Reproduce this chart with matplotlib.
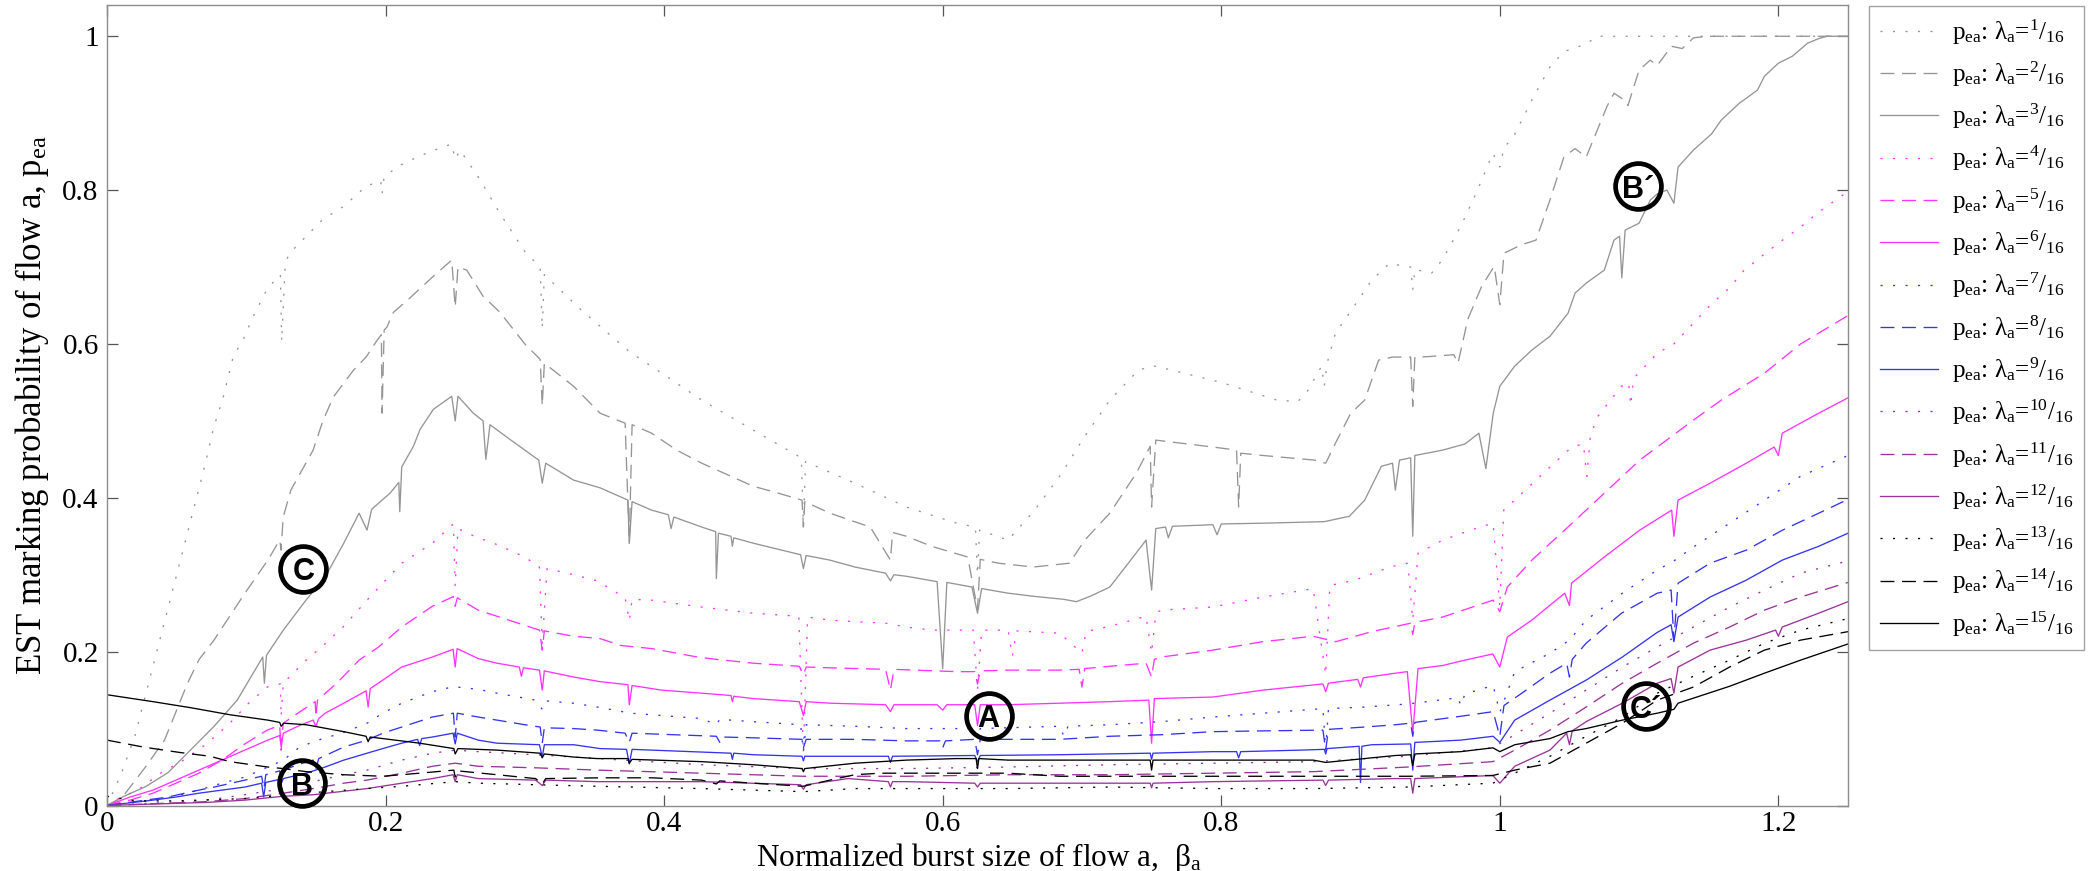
import matplotlib
matplotlib.use("Agg")
import matplotlib.pyplot as plt
from matplotlib.ticker import FormatStrFormatter

plt.rcParams['font.family'] = ['Liberation Serif', 'DejaVu Serif']
plt.rcParams['mathtext.fontset'] = 'custom'
plt.rcParams['mathtext.rm'] = 'Liberation Serif'
plt.rcParams['mathtext.it'] = 'Liberation Serif:italic'
plt.rcParams['lines.scale_dashes'] = False

# ---- data: beta_a (x) vs p_ea (y), one pair per lambda_a = k/16 ----
x1 = [0, 0.01, 0.02, 0.03, 0.04, 0.05, 0.06, 0.07, 0.0764, 0.0836, 0.0907, 0.0979, 0.105, 0.1146, 0.1206, 0.1245, 0.1254, 0.128, 0.131, 0.143, 0.155, 0.170, 0.186, 0.1965, 0.1975, 0.199, 0.213, 0.232, 0.2475, 0.25, 0.2535, 0.268, 0.282, 0.30, 0.311, 0.3125, 0.314, 0.34, 0.375, 0.40, 0.427, 0.464, 0.4985, 0.5, 0.5015, 0.537, 0.574, 0.61, 0.6235, 0.625, 0.6265, 0.647, 0.666, 0.684, 0.702, 0.72, 0.74, 0.75, 0.76, 0.80, 0.84, 0.855, 0.862, 0.872, 0.874, 0.876, 0.882, 0.895, 0.908, 0.921, 0.931, 0.936, 0.9375, 0.939, 0.951, 0.959, 0.972, 0.984, 0.995, 1.0, 1.003, 1.010, 1.023, 1.036, 1.046, 1.062, 1.07, 1.25]
y1 = [0, 0.04, 0.09, 0.16, 0.23, 0.30, 0.37, 0.44, 0.49, 0.532, 0.584, 0.606, 0.636, 0.670, 0.683, 0.69, 0.603, 0.705, 0.718, 0.740, 0.762, 0.779, 0.805, 0.812, 0.795, 0.818, 0.835, 0.85, 0.86, 0.84, 0.852, 0.813, 0.770, 0.72, 0.70, 0.62, 0.69, 0.645, 0.59, 0.56, 0.527, 0.488, 0.452, 0.363, 0.447, 0.419, 0.388, 0.367, 0.362, 0.30, 0.358, 0.345, 0.384, 0.428, 0.48, 0.527, 0.565, 0.572, 0.568, 0.55, 0.527, 0.525, 0.539, 0.571, 0.545, 0.575, 0.614, 0.648, 0.683, 0.705, 0.701, 0.70, 0.670, 0.697, 0.692, 0.71, 0.753, 0.80, 0.848, 0.83, 0.855, 0.87, 0.917, 0.96, 0.98, 0.99, 1.0, 1.0]

x2 = [0, 0.0111, 0.0276, 0.0413, 0.0578, 0.0662, 0.0768, 0.099, 0.1155, 0.124, 0.125, 0.1265, 0.132, 0.148, 0.155, 0.1625, 0.177, 0.186, 0.194, 0.197, 0.1975, 0.199, 0.201, 0.2056, 0.2152, 0.2343, 0.2475, 0.25, 0.252, 0.2583, 0.270, 0.2822, 0.30, 0.311, 0.3125, 0.314, 0.335, 0.354, 0.372, 0.375, 0.377, 0.391, 0.409, 0.427, 0.464, 0.482, 0.499, 0.5, 0.501, 0.519, 0.548, 0.5625, 0.564, 0.574, 0.592, 0.618, 0.625, 0.627, 0.640, 0.665, 0.691, 0.702, 0.72, 0.739, 0.749, 0.75, 0.753, 0.794, 0.811, 0.8125, 0.814, 0.830, 0.867, 0.875, 0.882, 0.893, 0.903, 0.913, 0.923, 0.936, 0.9375, 0.939, 0.944, 0.967, 0.97, 0.977, 0.987, 0.996, 1.0, 1.003, 1.0156, 1.026, 1.036, 1.046, 1.054, 1.062, 1.07, 1.077, 1.082, 1.087, 1.092, 1.10, 1.108, 1.113, 1.1233, 1.131, 1.139, 1.15, 1.25]
y2 = [0, 0.011, 0.05, 0.085, 0.159, 0.19, 0.215, 0.276, 0.319, 0.345, 0.332, 0.375, 0.41, 0.462, 0.50, 0.531, 0.566, 0.583, 0.605, 0.612, 0.51, 0.618, 0.622, 0.641, 0.656, 0.688, 0.709, 0.648, 0.700, 0.696, 0.662, 0.641, 0.60, 0.58, 0.52, 0.575, 0.545, 0.51, 0.497, 0.341, 0.495, 0.484, 0.462, 0.445, 0.415, 0.406, 0.397, 0.362, 0.395, 0.38, 0.362, 0.319, 0.355, 0.35, 0.337, 0.323, 0.255, 0.32, 0.315, 0.31, 0.315, 0.345, 0.38, 0.432, 0.467, 0.388, 0.475, 0.466, 0.462, 0.388, 0.458, 0.455, 0.449, 0.445, 0.471, 0.51, 0.527, 0.579, 0.583, 0.583, 0.519, 0.583, 0.583, 0.586, 0.575, 0.632, 0.675, 0.701, 0.651, 0.718, 0.729, 0.735, 0.787, 0.843, 0.854, 0.843, 0.878, 0.909, 0.926, 0.92, 0.91, 0.956, 0.969, 0.962, 0.987, 0.984, 0.998, 1.0, 1.0]

x3 = [0, 0.0028, 0.011, 0.0276, 0.044, 0.0605, 0.0769, 0.0935, 0.1118, 0.113, 0.1145, 0.1155, 0.1266, 0.1429, 0.1566, 0.170, 0.181, 0.1867, 0.19, 0.2032, 0.2095, 0.2102, 0.2116, 0.220, 0.2248, 0.2343, 0.2475, 0.25, 0.252, 0.263, 0.27, 0.272, 0.275, 0.29, 0.31, 0.3125, 0.315, 0.335, 0.354, 0.374, 0.375, 0.377, 0.391, 0.403, 0.405, 0.407, 0.427, 0.437, 0.4375, 0.439, 0.448, 0.449, 0.45, 0.464, 0.498, 0.5, 0.502, 0.519, 0.537, 0.559, 0.5625, 0.565, 0.574, 0.596, 0.6, 0.603, 0.621, 0.625, 0.628, 0.647, 0.665, 0.687, 0.696, 0.706, 0.72, 0.735, 0.746, 0.75, 0.753, 0.76, 0.762, 0.765, 0.794, 0.797, 0.80, 0.83, 0.874, 0.892, 0.903, 0.915, 0.923, 0.925, 0.928, 0.936, 0.9375, 0.939, 0.959, 0.975, 0.985, 0.99, 0.9953, 1.0, 1.0106, 1.023, 1.036, 1.049, 1.054, 1.062, 1.075, 1.082, 1.086, 1.0876, 1.09, 1.10, 1.108, 1.113, 1.12, 1.125, 1.128, 1.139, 1.152, 1.159, 1.172, 1.185, 1.19, 1.2, 1.21, 1.221, 1.229, 1.235, 1.25]
y3 = [0, 0.002, 0.011, 0.0244, 0.043, 0.073, 0.103, 0.137, 0.193, 0.159, 0.195, 0.198, 0.228, 0.267, 0.297, 0.341, 0.38, 0.358, 0.385, 0.406, 0.42, 0.382, 0.44, 0.467, 0.489, 0.515, 0.532, 0.50, 0.532, 0.51, 0.50, 0.45, 0.495, 0.475, 0.449, 0.419, 0.445, 0.423, 0.413, 0.397, 0.341, 0.395, 0.384, 0.378, 0.36, 0.375, 0.362, 0.356, 0.295, 0.354, 0.35, 0.337, 0.348, 0.341, 0.326, 0.308, 0.325, 0.319, 0.31, 0.302, 0.292, 0.30, 0.298, 0.291, 0.178, 0.29, 0.284, 0.25, 0.282, 0.276, 0.272, 0.268, 0.265, 0.272, 0.284, 0.319, 0.345, 0.28, 0.36, 0.362, 0.348, 0.363, 0.365, 0.352, 0.366, 0.367, 0.369, 0.376, 0.397, 0.441, 0.445, 0.41, 0.449, 0.452, 0.35, 0.455, 0.462, 0.47, 0.484, 0.438, 0.51, 0.545, 0.571, 0.592, 0.61, 0.64, 0.666, 0.679, 0.696, 0.735, 0.74, 0.686, 0.748, 0.757, 0.787, 0.795, 0.80, 0.783, 0.83, 0.852, 0.873, 0.891, 0.913, 0.93, 0.948, 0.965, 0.974, 0.991, 0.997, 1.0, 1.0]

x4 = [0, 0.0056, 0.0221, 0.0385, 0.0549, 0.0715, 0.0882, 0.1017, 0.115, 0.1245, 0.125, 0.1266, 0.143, 0.154, 0.170, 0.1867, 0.198, 0.2116, 0.2336, 0.2487, 0.25, 0.252, 0.2638, 0.2803, 0.30, 0.3105, 0.3125, 0.316, 0.335, 0.352, 0.372, 0.375, 0.377, 0.391, 0.427, 0.464, 0.4967, 0.5, 0.503, 0.519, 0.537, 0.559, 0.574, 0.592, 0.622, 0.625, 0.628, 0.647, 0.65, 0.653, 0.684, 0.70, 0.703, 0.72, 0.746, 0.75, 0.753, 0.757, 0.794, 0.83, 0.866, 0.875, 0.878, 0.896, 0.921, 0.934, 0.9375, 0.9413, 0.959, 0.979, 0.9952, 1.0, 1.0028, 1.0107, 1.023, 1.036, 1.0516, 1.06, 1.0625, 1.065, 1.070, 1.0874, 1.0925, 1.094, 1.096, 1.1131, 1.125, 1.139, 1.152, 1.165, 1.175, 1.19, 1.203, 1.216, 1.228, 1.241, 1.25]
y4 = [0, 0.007, 0.02, 0.042, 0.059, 0.08, 0.107, 0.133, 0.154, 0.158, 0.115, 0.159, 0.189, 0.206, 0.233, 0.267, 0.289, 0.315, 0.341, 0.366, 0.285, 0.36, 0.35, 0.339, 0.323, 0.31, 0.211, 0.308, 0.30, 0.292, 0.27, 0.24, 0.268, 0.267, 0.258, 0.25, 0.246, 0.068, 0.245, 0.241, 0.239, 0.237, 0.232, 0.228, 0.228, 0.15, 0.228, 0.228, 0.194, 0.227, 0.224, 0.198, 0.226, 0.233, 0.246, 0.198, 0.25, 0.254, 0.258, 0.271, 0.282, 0.17, 0.286, 0.293, 0.31, 0.315, 0.241, 0.328, 0.345, 0.358, 0.367, 0.258, 0.384, 0.397, 0.418, 0.44, 0.466, 0.47, 0.428, 0.48, 0.505, 0.545, 0.55, 0.52, 0.555, 0.588, 0.60, 0.627, 0.652, 0.673, 0.695, 0.717, 0.735, 0.752, 0.77, 0.787, 0.798]

x5 = [0, 0.0166, 0.033, 0.0495, 0.066, 0.0825, 0.099, 0.115, 0.124, 0.125, 0.1265, 0.137, 0.1495, 0.15, 0.1511, 0.165, 0.181, 0.195, 0.2116, 0.2336, 0.2487, 0.25, 0.2515, 0.2665, 0.28, 0.302, 0.3105, 0.3125, 0.314, 0.335, 0.354, 0.369, 0.391, 0.424, 0.4375, 0.464, 0.497, 0.5, 0.502, 0.519, 0.559, 0.5625, 0.565, 0.61, 0.623, 0.625, 0.627, 0.647, 0.684, 0.698, 0.70, 0.702, 0.72, 0.746, 0.75, 0.752, 0.757, 0.794, 0.83, 0.866, 0.8823, 0.908, 0.9361, 0.9375, 0.939, 0.959, 0.9952, 1.0, 1.0054, 1.023, 1.049, 1.075, 1.1005, 1.139, 1.159, 1.19, 1.216, 1.25]
y5 = [0, 0.007, 0.016, 0.029, 0.042, 0.059, 0.08, 0.098, 0.104, 0.072, 0.107, 0.12, 0.135, 0.115, 0.137, 0.159, 0.189, 0.206, 0.232, 0.259, 0.2716, 0.259, 0.27, 0.254, 0.246, 0.233, 0.228, 0.202, 0.227, 0.22, 0.217, 0.208, 0.204, 0.193, 0.19, 0.185, 0.181, 0.17, 0.18, 0.179, 0.177, 0.15, 0.177, 0.174, 0.174, 0.158, 0.175, 0.176, 0.176, 0.177, 0.154, 0.178, 0.181, 0.185, 0.167, 0.19, 0.193, 0.202, 0.213, 0.22, 0.213, 0.226, 0.237, 0.222, 0.238, 0.245, 0.267, 0.252, 0.284, 0.319, 0.362, 0.406, 0.449, 0.501, 0.527, 0.562, 0.60, 0.637]

x6 = [0, 0.0166, 0.033, 0.0495, 0.066, 0.0825, 0.0989, 0.1155, 0.124, 0.125, 0.1266, 0.137, 0.148, 0.15, 0.152, 0.1566, 0.170, 0.186, 0.1875, 0.189, 0.198, 0.2116, 0.2336, 0.2485, 0.25, 0.2514, 0.2665, 0.28, 0.296, 0.2975, 0.299, 0.3105, 0.3125, 0.314, 0.335, 0.354, 0.374, 0.375, 0.377, 0.398, 0.427, 0.448, 0.449, 0.45, 0.464, 0.497, 0.5, 0.502, 0.519, 0.559, 0.5625, 0.565, 0.596, 0.6, 0.603, 0.623, 0.625, 0.627, 0.647, 0.684, 0.72, 0.748, 0.75, 0.752, 0.794, 0.83, 0.873, 0.875, 0.877, 0.898, 0.9, 0.902, 0.925, 0.9336, 0.9375, 0.9413, 0.959, 0.975, 0.995, 1.0, 1.0054, 1.023, 1.0466, 1.05, 1.0515, 1.075, 1.1005, 1.1234, 1.125, 1.128, 1.151, 1.177, 1.197, 1.2, 1.2028, 1.229, 1.25]
y6 = [0, 0.011, 0.02, 0.033, 0.046, 0.059, 0.072, 0.085, 0.091, 0.077, 0.094, 0.103, 0.111, 0.103, 0.113, 0.12, 0.133, 0.149, 0.128, 0.152, 0.163, 0.18, 0.193, 0.203, 0.18, 0.204, 0.191, 0.185, 0.18, 0.168, 0.179, 0.176, 0.15, 0.175, 0.167, 0.161, 0.157, 0.131, 0.156, 0.15, 0.146, 0.143, 0.135, 0.142, 0.139, 0.135, 0.117, 0.135, 0.133, 0.131, 0.122, 0.131, 0.131, 0.124, 0.131, 0.131, 0.104, 0.131, 0.131, 0.133, 0.135, 0.137, 0.081, 0.139, 0.141, 0.15, 0.158, 0.148, 0.159, 0.164, 0.154, 0.166, 0.172, 0.174, 0.094, 0.178, 0.182, 0.189, 0.197, 0.18, 0.219, 0.241, 0.276, 0.26, 0.289, 0.323, 0.358, 0.384, 0.35, 0.397, 0.419, 0.445, 0.466, 0.455, 0.484, 0.51, 0.53]

x7 = [0, 0.033, 0.0495, 0.066, 0.0825, 0.099, 0.1155, 0.1266, 0.137, 0.148, 0.17, 0.1867, 0.198, 0.2116, 0.2336, 0.2487, 0.2665, 0.28, 0.3077, 0.3125, 0.315, 0.335, 0.352, 0.376, 0.427, 0.4375, 0.44, 0.464, 0.498, 0.5, 0.502, 0.537, 0.574, 0.623, 0.625, 0.627, 0.684, 0.687, 0.69, 0.72, 0.757, 0.794, 0.83, 0.873, 0.875, 0.877, 0.903, 0.934, 0.97, 0.972, 0.975, 0.9952, 1.0, 1.0107, 1.036, 1.05, 1.062, 1.088, 1.113, 1.125, 1.139, 1.165, 1.19, 1.216, 1.25]
y7 = [0, 0.007, 0.012, 0.02, 0.029, 0.037, 0.05, 0.059, 0.074, 0.083, 0.095, 0.107, 0.12, 0.133, 0.148, 0.1545, 0.151, 0.146, 0.137, 0.125, 0.136, 0.133, 0.128, 0.12, 0.113, 0.105, 0.112, 0.109, 0.105, 0.07, 0.105, 0.103, 0.10, 0.10, 0.088, 0.10, 0.103, 0.09, 0.103, 0.105, 0.109, 0.115, 0.12, 0.126, 0.072, 0.126, 0.128, 0.132, 0.14, 0.13, 0.145, 0.156, 0.121, 0.174, 0.198, 0.215, 0.241, 0.276, 0.306, 0.318, 0.336, 0.367, 0.397, 0.428, 0.455]

x8 = [0, 0.0276, 0.044, 0.0605, 0.077, 0.099, 0.111, 0.1127, 0.114, 0.124, 0.125, 0.1266, 0.137, 0.148, 0.15, 0.152, 0.17, 0.1867, 0.198, 0.2116, 0.2336, 0.2487, 0.25, 0.2515, 0.2665, 0.28, 0.30, 0.311, 0.3125, 0.314, 0.335, 0.352, 0.372, 0.375, 0.377, 0.4375, 0.44, 0.442, 0.464, 0.499, 0.5, 0.502, 0.537, 0.574, 0.598, 0.6, 0.602, 0.623, 0.625, 0.627, 0.647, 0.684, 0.72, 0.757, 0.794, 0.83, 0.873, 0.875, 0.877, 0.903, 0.925, 0.936, 0.9375, 0.939, 0.972, 0.9952, 1.0, 1.003, 1.015, 1.036, 1.048, 1.05, 1.052, 1.062, 1.0874, 1.113, 1.123, 1.125, 1.128, 1.151, 1.177, 1.203, 1.229, 1.25]
y8 = [0, 0.007, 0.011, 0.018, 0.024, 0.033, 0.038, 0.022, 0.04, 0.045, 0.033, 0.046, 0.053, 0.059, 0.048, 0.061, 0.076, 0.085, 0.094, 0.102, 0.115, 0.12, 0.089, 0.12, 0.115, 0.111, 0.105, 0.102, 0.081, 0.101, 0.10, 0.098, 0.094, 0.082, 0.094, 0.09, 0.082, 0.089, 0.088, 0.086, 0.075, 0.086, 0.086, 0.084, 0.084, 0.075, 0.084, 0.086, 0.066, 0.086, 0.086, 0.086, 0.09, 0.092, 0.096, 0.097, 0.098, 0.072, 0.099, 0.102, 0.105, 0.107, 0.09, 0.108, 0.116, 0.122, 0.09, 0.13, 0.145, 0.172, 0.185, 0.167, 0.19, 0.211, 0.25, 0.276, 0.28, 0.215, 0.289, 0.315, 0.332, 0.358, 0.38, 0.398]

x9 = [0, 0.033, 0.0495, 0.066, 0.0825, 0.099, 0.111, 0.1125, 0.114, 0.124, 0.125, 0.1266, 0.143, 0.1566, 0.17, 0.1867, 0.198, 0.2116, 0.223, 0.2245, 0.226, 0.2336, 0.2485, 0.25, 0.2515, 0.2665, 0.28, 0.3105, 0.3125, 0.314, 0.335, 0.354, 0.373, 0.375, 0.377, 0.391, 0.448, 0.449, 0.45, 0.464, 0.499, 0.5, 0.501, 0.561, 0.5625, 0.564, 0.623, 0.625, 0.627, 0.684, 0.749, 0.75, 0.751, 0.794, 0.811, 0.8125, 0.814, 0.857, 0.874, 0.875, 0.876, 0.899, 0.9, 0.901, 0.908, 0.936, 0.9375, 0.939, 0.972, 0.9952, 1.0, 1.0107, 1.036, 1.062, 1.088, 1.113, 1.123, 1.125, 1.128, 1.151, 1.177, 1.2028, 1.229, 1.25]
y9 = [0, 0.007, 0.011, 0.016, 0.02, 0.024, 0.029, 0.011, 0.03, 0.034, 0.028, 0.035, 0.042, 0.05, 0.059, 0.068, 0.074, 0.081, 0.086, 0.078, 0.087, 0.089, 0.094, 0.08, 0.094, 0.085, 0.081, 0.079, 0.063, 0.079, 0.079, 0.074, 0.073, 0.054, 0.073, 0.072, 0.068, 0.06, 0.068, 0.066, 0.064, 0.058, 0.064, 0.064, 0.056, 0.064, 0.065, 0.057, 0.065, 0.066, 0.068, 0.06, 0.068, 0.07, 0.07, 0.062, 0.07, 0.072, 0.073, 0.067, 0.074, 0.077, 0.03, 0.077, 0.079, 0.08, 0.046, 0.082, 0.085, 0.09, 0.082, 0.111, 0.137, 0.163, 0.193, 0.225, 0.235, 0.213, 0.245, 0.271, 0.293, 0.319, 0.337, 0.354]

x10 = [0, 0.044, 0.0715, 0.099, 0.1266, 0.148, 0.17, 0.1867, 0.2116, 0.2336, 0.25, 0.2665, 0.3077, 0.352, 0.427, 0.5, 0.574, 0.647, 0.72, 0.794, 0.866, 0.934, 0.995, 1.0107, 1.036, 1.062, 1.088, 1.113, 1.139, 1.165, 1.19, 1.216, 1.25]
y10 = [0, 0.004, 0.007, 0.014, 0.022, 0.031, 0.040, 0.046, 0.059, 0.068, 0.072, 0.07, 0.066, 0.061, 0.053, 0.048, 0.048, 0.05, 0.053, 0.055, 0.057, 0.064, 0.075, 0.092, 0.12, 0.15, 0.18, 0.206, 0.232, 0.258, 0.28, 0.302, 0.318]

x11 = [0, 0.0715, 0.099, 0.1266, 0.148, 0.17, 0.1867, 0.2116, 0.2336, 0.25, 0.2665, 0.3077, 0.352, 0.427, 0.5, 0.574, 0.647, 0.72, 0.794, 0.866, 0.934, 0.995, 1.0107, 1.036, 1.062, 1.088, 1.113, 1.139, 1.165, 1.19, 1.216, 1.25]
y11 = [0, 0.005, 0.009, 0.016, 0.022, 0.029, 0.033, 0.042, 0.051, 0.055, 0.051, 0.049, 0.046, 0.042, 0.038, 0.038, 0.04, 0.04, 0.042, 0.044, 0.05, 0.057, 0.072, 0.098, 0.128, 0.159, 0.185, 0.211, 0.232, 0.254, 0.271, 0.29]

x12 = [0, 0.0715, 0.099, 0.1266, 0.148, 0.1867, 0.2116, 0.2336, 0.2485, 0.25, 0.2515, 0.2665, 0.3077, 0.3125, 0.315, 0.352, 0.427, 0.498, 0.5, 0.502, 0.532, 0.561, 0.5625, 0.564, 0.574, 0.623, 0.625, 0.627, 0.684, 0.749, 0.75, 0.751, 0.794, 0.873, 0.875, 0.877, 0.925, 0.936, 0.9375, 0.939, 0.995, 1.0, 1.0107, 1.036, 1.048, 1.05, 1.052, 1.062, 1.088, 1.113, 1.123, 1.125, 1.128, 1.151, 1.177, 1.198, 1.2, 1.2028, 1.229, 1.25]
y12 = [0, 0.004, 0.007, 0.012, 0.014, 0.022, 0.029, 0.035, 0.04, 0.031, 0.04, 0.035, 0.033, 0.026, 0.033, 0.031, 0.031, 0.027, 0.021, 0.027, 0.035, 0.031, 0.024, 0.031, 0.031, 0.029, 0.024, 0.029, 0.029, 0.029, 0.023, 0.029, 0.031, 0.033, 0.026, 0.033, 0.035, 0.035, 0.016, 0.035, 0.039, 0.029, 0.051, 0.072, 0.094, 0.079, 0.097, 0.109, 0.133, 0.159, 0.165, 0.146, 0.18, 0.202, 0.215, 0.228, 0.22, 0.232, 0.25, 0.265]

x13 = [0, 0.02, 0.05, 0.099, 0.1566, 0.1867, 0.2116, 0.25, 0.2665, 0.3077, 0.352, 0.427, 0.5, 0.537, 0.647, 0.72, 0.794, 0.866, 0.934, 0.995, 1.0107, 1.036, 1.062, 1.088, 1.113, 1.139, 1.165, 1.19, 1.216, 1.25]
y13 = [0.012, 0.006, 0.006, 0.009, 0.018, 0.022, 0.025, 0.031, 0.029, 0.027, 0.025, 0.022, 0.018, 0.022, 0.022, 0.024, 0.022, 0.022, 0.024, 0.029, 0.042, 0.064, 0.09, 0.115, 0.146, 0.168, 0.189, 0.211, 0.228, 0.243]

x14 = [0, 0.026, 0.052, 0.074, 0.0882, 0.1155, 0.1266, 0.143, 0.17, 0.198, 0.2245, 0.249, 0.25, 0.252, 0.28, 0.3077, 0.3125, 0.315, 0.354, 0.391, 0.427, 0.4375, 0.44, 0.464, 0.5, 0.519, 0.537, 0.555, 0.61, 0.647, 0.684, 0.794, 0.934, 0.995, 1.0107, 1.036, 1.049, 1.062, 1.088, 1.113, 1.139, 1.165, 1.19, 1.216, 1.25]
y14 = [0.085, 0.076, 0.069, 0.064, 0.057, 0.05, 0.048, 0.044, 0.04, 0.038, 0.042, 0.046, 0.037, 0.045, 0.04, 0.035, 0.028, 0.035, 0.036, 0.036, 0.033, 0.028, 0.032, 0.029, 0.025, 0.033, 0.04, 0.042, 0.042, 0.042, 0.038, 0.038, 0.038, 0.039, 0.046, 0.055, 0.068, 0.081, 0.107, 0.137, 0.154, 0.18, 0.202, 0.215, 0.226]

x15 = [0, 0.033, 0.0605, 0.0882, 0.1155, 0.124, 0.125, 0.127, 0.143, 0.17, 0.186, 0.1875, 0.189, 0.198, 0.2245, 0.249, 0.25, 0.252, 0.28, 0.311, 0.3125, 0.314, 0.335, 0.352, 0.374, 0.375, 0.377, 0.427, 0.464, 0.499, 0.5, 0.501, 0.537, 0.574, 0.61, 0.624, 0.625, 0.626, 0.647, 0.749, 0.75, 0.751, 0.794, 0.866, 0.875, 0.925, 0.936, 0.9375, 0.939, 0.972, 0.995, 1.0, 1.0107, 1.036, 1.049, 1.062, 1.088, 1.113, 1.125, 1.128, 1.165, 1.19, 1.216, 1.25]
y15 = [0.144, 0.135, 0.127, 0.118, 0.111, 0.108, 0.103, 0.107, 0.105, 0.096, 0.09, 0.083, 0.089, 0.087, 0.081, 0.074, 0.067, 0.074, 0.072, 0.068, 0.062, 0.067, 0.063, 0.061, 0.061, 0.055, 0.06, 0.057, 0.053, 0.048, 0.044, 0.048, 0.055, 0.059, 0.061, 0.061, 0.048, 0.061, 0.059, 0.059, 0.046, 0.059, 0.059, 0.059, 0.056, 0.065, 0.066, 0.052, 0.067, 0.07, 0.075, 0.07, 0.079, 0.087, 0.096, 0.10, 0.111, 0.12, 0.125, 0.133, 0.155, 0.172, 0.189, 0.21]

xs = [x1, x2, x3, x4, x5, x6, x7, x8, x9, x10, x11, x12, x13, x14, x15]
ys = [y1, y2, y3, y4, y5, y6, y7, y8, y9, y10, y11, y12, y13, y14, y15]
numerators = list(range(1, 16))

# circled markers put on the figure
mark_text = ['A', 'B', 'C', 'B\u00b4', 'C\u00b4']
mark_x = [0.633, 0.140, 0.141, 1.099, 1.105]
mark_y = [0.1164, 0.029, 0.3075, 0.8047, 0.129]

group_colors = ['#959595', '#ff33ff', '#3434f0', '#993399', '#000000']
styles = [(0, (1.5, 7.5)), (0, (10, 5.5)), '-']

fig = plt.figure(figsize=(20.93, 8.71), dpi=100)
ax = fig.add_axes([107 / 2093, 65.5 / 871, 1741 / 2093, 800 / 871])

handles = []
labels = []
for i, (x, y) in enumerate(zip(xs, ys)):
    ln, = ax.plot(x, y, color=group_colors[i // 3], linestyle=styles[i % 3], linewidth=0.95)
    handles.append(ln)
    labels.append(r'p$_{\mathrm{ea}}$: λ$_{\mathrm{a}}$=$^{\mathrm{%d}}$/$_{\mathrm{16}}$' % numerators[i])

for t, mx, my in zip(mark_text, mark_x, mark_y):
    ax.plot(mx, my, 'o', ms=33, mfc='none', mec='black', mew=3.4, zorder=6, clip_on=False)
    ax.text(mx, my, t, ha='center', va='center_baseline', fontsize=22, fontweight='bold',
            family='Liberation Sans', zorder=7)

ax.set_xlim(0, 1.25)
ax.set_ylim(0, 1.04)
ax.set_xticks([0, 0.2, 0.4, 0.6, 0.8, 1.0, 1.2])
ax.set_yticks([0, 0.2, 0.4, 0.6, 0.8, 1.0])
ax.xaxis.set_major_formatter(FormatStrFormatter('%g'))
ax.yaxis.set_major_formatter(FormatStrFormatter('%g'))
ax.tick_params(direction='in', length=8, width=0.9, color='#555555', labelsize=21,
               top=True, right=True, pad=4)
ax.tick_params(axis='y', pad=6)
for s in ax.spines.values():
    s.set_color('#8c8c8c')
    s.set_linewidth(1.0)

ax.set_xlabel(r'Normalized burst size of flow a,  β$_{\mathrm{a}}$', fontsize=22.5)
ax.set_ylabel(r'EST marking probability of flow a, p$_{\mathrm{ea}}$', fontsize=25)
ax.xaxis.set_label_coords(0.5009, -0.044)
ax.yaxis.set_label_coords(-0.032, 0.5)

leg = fig.legend(handles, labels, loc='upper left', bbox_to_anchor=(1869 / 2093, 865 / 871),
                 borderaxespad=0, fontsize=18, frameon=True, fancybox=False,
                 handlelength=2.3, handletextpad=0.56, borderpad=0.45, labelspacing=0.52)
leg.get_frame().set_edgecolor('#8c8c8c')
leg.get_frame().set_linewidth(1.0)

fig.savefig('out.png', dpi=100)
